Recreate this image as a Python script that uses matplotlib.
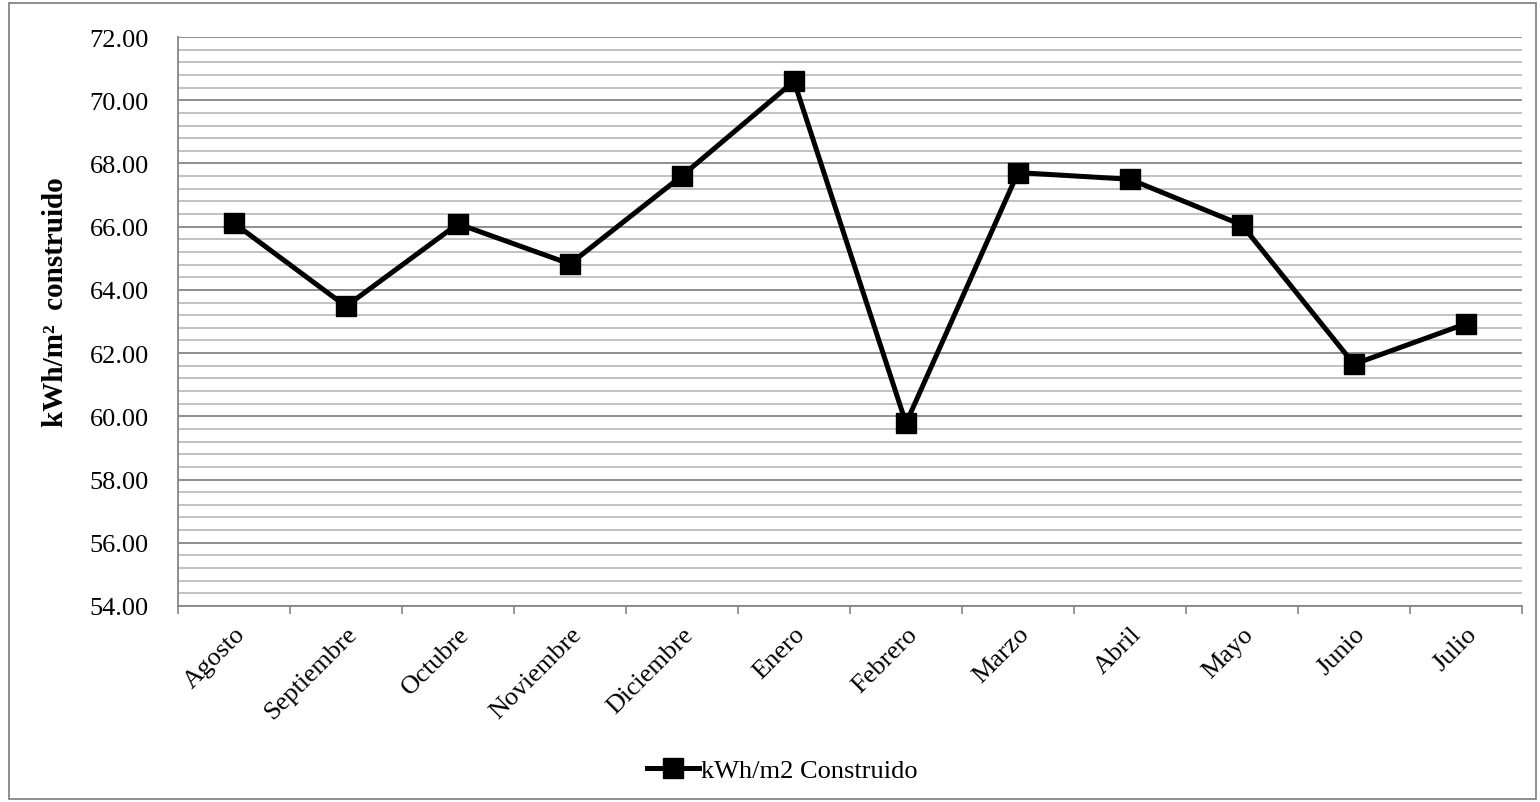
import matplotlib.pyplot as plt
from matplotlib.patches import Rectangle
from matplotlib.ticker import MultipleLocator, FormatStrFormatter

months = ["Agosto", "Septiembre", "Octubre", "Noviembre", "Diciembre", "Enero",
          "Febrero", "Marzo", "Abril", "Mayo", "Junio", "Julio"]
kwh_m2 = [66.11, 63.48, 66.09, 64.82, 67.61, 70.60,
          59.78, 67.71, 67.50, 66.05, 61.65, 62.93]

plt.rcParams["font.family"] = ["Liberation Serif", "DejaVu Serif"]

fig = plt.figure(figsize=(15.4, 8.03), dpi=100)
ax = fig.add_axes([178 / 1540, 1 - 607 / 803, (1522 - 178) / 1540, (607 - 38) / 803])

xs = range(len(months))
ax.plot(xs, kwh_m2, color="black", lw=3.6, marker="s", markersize=14,
        label="kWh/m2 Construido", zorder=5)

ax.set_xlim(-0.5, len(months) - 0.5)
ax.set_ylim(54, 72)
ax.yaxis.set_major_locator(MultipleLocator(2))
ax.yaxis.set_minor_locator(MultipleLocator(0.4))
ax.yaxis.set_major_formatter(FormatStrFormatter("%.2f"))
ax.grid(True, which="major", axis="y", color="#868686", lw=1.3)
ax.grid(True, which="minor", axis="y", color="#bdbdbd", lw=1.3)
ax.set_axisbelow(True)

# category ticks sit between months
ax.set_xticks([i - 0.5 for i in range(len(months) + 1)], minor=False)
ax.set_xticklabels([])
ax.set_xticks(list(xs), minor=True)
ax.set_xticklabels(months, minor=True, rotation=45, ha="right",
                   rotation_mode="anchor", fontsize=19)
ax.tick_params(axis="x", which="major", length=6, color="#868686", width=1.2)
ax.tick_params(axis="x", which="minor", length=0, pad=12)
ax.tick_params(axis="y", which="both", length=0, labelsize=19, pad=21)

for side in ["top", "right"]:
    ax.spines[side].set_visible(False)
for side in ["left", "bottom"]:
    ax.spines[side].set_color("#868686")
    ax.spines[side].set_linewidth(1.3)

ax.set_ylabel("kWh/m²  construido", fontsize=21, fontweight="bold")
ax.yaxis.set_label_coords(-0.081, 0.535)

fig.legend(loc="center", bbox_to_anchor=(782 / 1540, 1 - 771 / 803), frameon=False,
           fontsize=19, handlelength=2.0, handletextpad=0.05)

fig.patches.append(Rectangle((9 / 1540, 3 / 803), 1527 / 1540, 796 / 803,
                             transform=fig.transFigure, fill=False,
                             edgecolor="#868686", lw=1.3))

fig.savefig("out.png", dpi=100)
